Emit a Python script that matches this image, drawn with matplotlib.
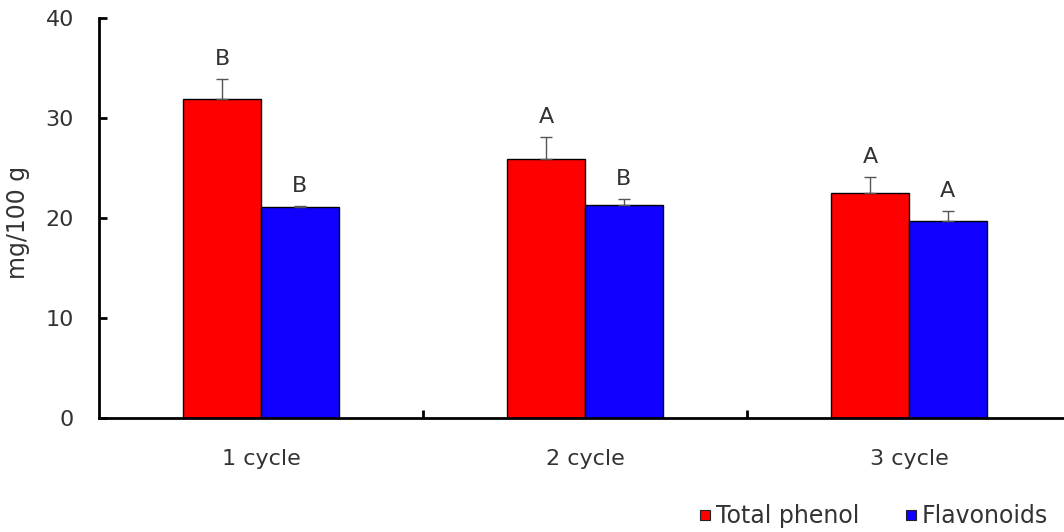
import matplotlib
matplotlib.use("Agg")
import matplotlib.pyplot as plt
from matplotlib.lines import Line2D
import numpy as np

# Data
categories = ["1 cycle", "2 cycle", "3 cycle"]
phenol = [31.9, 25.9, 22.5]
phenol_err = [2.0, 2.2, 1.6]
flavonoids = [21.1, 21.3, 19.7]
flavonoids_err = [0.1, 0.6, 1.0]
phenol_letters = ["B", "A", "A"]
flavonoid_letters = ["B", "B", "A"]
series_names = ["Total phenol", "Flavonoids"]

RED = "#ff0000"
BLUE = "#1000ff"
TEXT = "#333333"

plt.rcParams["font.family"] = ["DejaVu Sans"]

fig = plt.figure(figsize=(10.64, 5.32), dpi=100)
ax = fig.add_axes([99 / 1064, 114 / 532, 972 / 1064, 400 / 532])

x = np.arange(len(categories))
w = 0.24

ax.bar(x - w / 2, phenol, w, color=RED, edgecolor="black", linewidth=1, zorder=2)
ax.bar(x + w / 2, flavonoids, w, color=BLUE, edgecolor="black", linewidth=1, zorder=2)

zeros = np.zeros(len(x))
ax.errorbar(x - w / 2, phenol, yerr=[zeros, phenol_err], fmt="none",
            ecolor="#555555", elinewidth=1, capsize=4.5, capthick=1, zorder=3)
ax.errorbar(x + w / 2, flavonoids, yerr=[zeros, flavonoids_err], fmt="none",
            ecolor="#555555", elinewidth=1, capsize=4.5, capthick=1, zorder=3)

for xi, v, e, t in zip(x - w / 2, phenol, phenol_err, phenol_letters):
    ax.annotate(t, (xi, v + e), xytext=(0, 7), textcoords="offset points",
                ha="center", va="bottom", fontsize=16, color=TEXT)
for xi, v, e, t in zip(x + w / 2, flavonoids, flavonoids_err, flavonoid_letters):
    ax.annotate(t, (xi, v + e), xytext=(0, 7), textcoords="offset points",
                ha="center", va="bottom", fontsize=16, color=TEXT)

ax.set_xlim(-0.5, 2.5)
ax.set_ylim(0, 40)
ax.set_yticks([0, 10, 20, 30, 40])
ax.set_xticks(x)
ax.set_xticklabels(categories)
ax.set_xticks([0.5, 1.5, 2.5], minor=True)

for s in ["top", "right"]:
    ax.spines[s].set_visible(False)
for s in ["left", "bottom"]:
    ax.spines[s].set_linewidth(2)
    ax.spines[s].set_color("black")

ax.tick_params(axis="y", direction="in", length=6, width=2, pad=18,
               labelsize=16, labelcolor=TEXT)
ax.tick_params(axis="x", which="major", length=0, pad=22,
               labelsize=16, labelcolor=TEXT)
ax.tick_params(axis="x", which="minor", direction="in", length=6, width=2)

ax.set_ylabel("mg/100 g", fontsize=17, color=TEXT)
ax.yaxis.set_label_coords(-0.071, 0.49)

handles = [
    Line2D([], [], linestyle="none", marker="s", markersize=7,
           markerfacecolor=RED, markeredgecolor="#222222", markeredgewidth=0.8),
    Line2D([], [], linestyle="none", marker="s", markersize=7,
           markerfacecolor=BLUE, markeredgecolor="#222222", markeredgewidth=0.8),
]
leg = fig.legend(handles, series_names, loc="center right",
                 bbox_to_anchor=(1048 / 1064, 16 / 532), ncol=2, frameon=False,
                 fontsize=17, handlelength=0.6, handletextpad=0.15,
                 columnspacing=1.9, borderpad=0, borderaxespad=0)
for t in leg.get_texts():
    t.set_color(TEXT)

fig.savefig("out.png", dpi=100)
